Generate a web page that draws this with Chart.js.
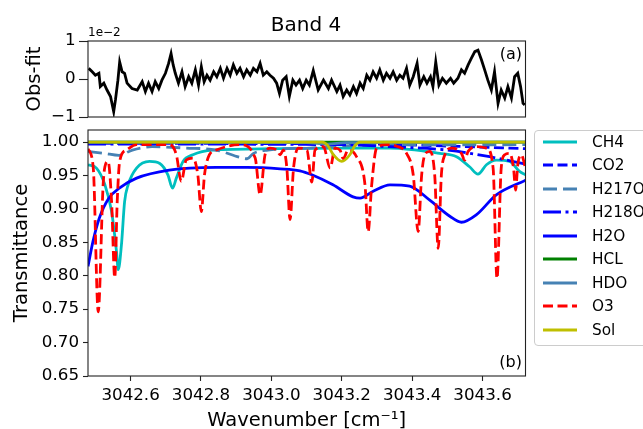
<!DOCTYPE html>
<html>
<head>
<meta charset="utf-8">
<script src="https://cdn.jsdelivr.net/npm/chart.js@4.4.1/dist/chart.umd.min.js"></script>
<style>
  html, body { margin: 0; padding: 0; background: #fff; overflow: hidden; }
  body { width: 643px; height: 429px; position: relative; font-family: "DejaVu Sans", sans-serif; color: #000; }
  canvas { position: absolute; left: 0; top: 0; }
  .txt { position: absolute; white-space: nowrap; line-height: 1; }
  #legendBox { position: absolute; left: 534px; top: 130px; width: 140px; height: 214px;
               border: 1px solid #cccccc; border-radius: 4px; background: #fff; }
  .legRow { position: absolute; left: 0; height: 20px; }
  .legRow svg { position: absolute; left: 543px; top: 5px; }
  .legRow span { position: absolute; left: 592px; top: 0; line-height: 20px; font-size: 15.3px; }
</style>
</head>
<body>
<canvas id="bottomChart" width="643" height="429"></canvas>
<canvas id="topChart" width="643" height="429"></canvas>
<div id="legendBox"></div>
<div class="txt" style="left:306px; top:24px; transform:translate(-50%,-50%); font-size:20px;">Band 4</div>
<div class="txt" style="left:88px; top:32px; transform:translateY(-50%); font-size:12px;">1e−2</div>
<div class="txt" style="right:121px; top:54px; transform:translateY(-50%); font-size:16px;">(a)</div>
<div class="txt" style="right:121px; top:362px; transform:translateY(-50%); font-size:16px;">(b)</div>
<script>
// axis ranges and ticks
const xMin = 3042.479, xMax = 3043.722;
const xTicks = [3042.6, 3042.8, 3043.0, 3043.2, 3043.4, 3043.6];
const yTicks = [0.65, 0.70, 0.75, 0.80, 0.85, 0.90, 0.95, 1.00];
const resTicks = [-1, 0, 1];

// (a) obs - fit residual, in units of 1e-2
const wnRes = [
  3042.481, 3042.491, 3042.500, 3042.510, 3042.514, 3042.524, 3042.533, 3042.543, 3042.552, 3042.557,
  3042.564, 3042.569, 3042.576, 3042.583, 3042.590, 3042.604, 3042.619, 3042.633, 3042.642, 3042.651,
  3042.661, 3042.670, 3042.680, 3042.689, 3042.699, 3042.708, 3042.715, 3042.721, 3042.727, 3042.736,
  3042.746, 3042.755, 3042.765, 3042.774, 3042.784, 3042.793, 3042.801, 3042.809, 3042.817, 3042.826,
  3042.836, 3042.845, 3042.855, 3042.864, 3042.874, 3042.883, 3042.892, 3042.902, 3042.911, 3042.921,
  3042.930, 3042.940, 3042.949, 3042.959, 3042.968, 3042.977, 3042.987, 3042.996, 3043.006, 3043.015,
  3043.023, 3043.032, 3043.042, 3043.051, 3043.061, 3043.070, 3043.080, 3043.089, 3043.099, 3043.108,
  3043.119, 3043.133, 3043.148, 3043.162, 3043.171, 3043.186, 3043.195, 3043.204, 3043.214, 3043.223,
  3043.233, 3043.242, 3043.252, 3043.261, 3043.271, 3043.280, 3043.289, 3043.299, 3043.308, 3043.318,
  3043.327, 3043.337, 3043.346, 3043.356, 3043.365, 3043.374, 3043.384, 3043.393, 3043.403, 3043.414,
  3043.422, 3043.433, 3043.442, 3043.452, 3043.459, 3043.467, 3043.476, 3043.486, 3043.497, 3043.509,
  3043.518, 3043.530, 3043.540, 3043.549, 3043.559, 3043.568, 3043.578, 3043.587, 3043.597, 3043.606,
  3043.615, 3043.625, 3043.634, 3043.644, 3043.653, 3043.663, 3043.672, 3043.682, 3043.691, 3043.700,
  3043.708, 3043.715, 3043.720
];
const resVals = [
  0.28, 0.19, 0.10, 0.15, -0.20, -0.11, -0.29, -0.46, -0.86, -0.55,
  -0.03, 0.45, 0.19, 0.15, -0.11, -0.25, -0.29, -0.07, -0.33, -0.11,
  -0.33, -0.07, -0.25, -0.03, 0.15, 0.41, 0.67, 0.37, 0.15, -0.11,
  0.19, -0.20, 0.06, -0.11, 0.24, -0.16, 0.32, -0.07, 0.10, -0.03,
  0.19, 0.06, 0.28, 0.02, 0.28, 0.10, 0.37, 0.15, 0.28, 0.06,
  0.24, 0.10, 0.28, 0.19, 0.41, 0.10, 0.19, 0.10, 0.02, -0.11,
  -0.38, -0.03, 0.06, -0.46, -0.03, -0.16, -0.03, -0.25, -0.03, -0.16,
  0.22, -0.29, -0.03, -0.25, -0.03, -0.33, -0.16, -0.46, -0.29, -0.42,
  -0.20, -0.38, -0.11, -0.25, 0.10, -0.03, 0.19, 0.02, 0.24, -0.03,
  0.15, 0.02, 0.19, -0.03, 0.10, 0.02, 0.28, -0.16, 0.06, 0.41,
  -0.16, 0.06, -0.11, 0.06, -0.20, 0.45, -0.16, 0.02, -0.11, 0.02,
  -0.11, 0.02, 0.24, 0.15, 0.37, 0.54, 0.72, 0.76, 0.50, 0.24,
  -0.03, -0.29, 0.19, -0.64, -0.29, -0.50, -0.20, -0.50, 0.06, 0.15,
  -0.20, -0.64, -0.68
];

// (b) transmittance per species
const wnCH4 = [3042.479, 3042.503, 3042.527, 3042.546, 3042.560, 3042.565, 3042.574, 3042.583, 3042.593,
  3042.617, 3042.654, 3042.683, 3042.706, 3042.719, 3042.730, 3042.749, 3042.777, 3042.834, 3043.000,
  3043.200, 3043.337, 3043.478, 3043.526, 3043.563, 3043.587, 3043.611, 3043.639, 3043.677, 3043.705, 3043.722];
const trCH4 = [0.966, 0.961, 0.936, 0.896, 0.836, 0.809, 0.846, 0.911, 0.936,
  0.961, 0.971, 0.968, 0.951, 0.931, 0.946, 0.971, 0.981, 0.988, 0.990,
  0.991, 0.991, 0.983, 0.978, 0.963, 0.952, 0.966, 0.973, 0.971, 0.956, 0.951];

const wnCO2 = [3042.479, 3043.300, 3043.500, 3043.722];
const trCO2 = [0.998, 0.997, 0.994, 0.990];

const wnH217O = [3042.479, 3042.526, 3042.567, 3042.605, 3042.661, 3042.758, 3042.843, 3042.911, 3042.931,
  3042.949, 3042.990, 3043.110, 3043.250, 3043.722];
const trH217O = [0.986, 0.983, 0.980, 0.988, 0.993, 0.991, 0.988, 0.977, 0.975,
  0.983, 0.988, 0.991, 0.995, 0.996];

const wnH218O = [3042.479, 3043.200, 3043.337, 3043.497, 3043.620, 3043.722];
const trH218O = [0.997, 0.996, 0.993, 0.988, 0.978, 0.967];

const wnH2O = [3042.479, 3042.493, 3042.511, 3042.538, 3042.568, 3042.617, 3042.710, 3042.843, 3042.931,
  3043.025, 3043.081, 3043.115, 3043.175, 3043.232, 3043.252, 3043.288, 3043.337, 3043.393, 3043.450,
  3043.507, 3043.540, 3043.582, 3043.639, 3043.722];
const trH2O = [0.814, 0.851, 0.886, 0.916, 0.931, 0.946, 0.958, 0.962, 0.962,
  0.960, 0.957, 0.951, 0.936, 0.918, 0.916, 0.926, 0.936, 0.934, 0.913,
  0.889, 0.880, 0.891, 0.921, 0.943];

const wnHCL = [3042.479, 3043.722];
const trHCL = [1.000, 1.000];

const wnHDO = [3042.479, 3043.100, 3043.160, 3043.210, 3043.722];
const trHDO = [1.000, 0.999, 0.997, 0.999, 1.000];

const wnO3 = [3042.479, 3042.494, 3042.508, 3042.522, 3042.527, 3042.536, 3042.546, 3042.555, 3042.562,
  3042.569, 3042.588, 3042.617, 3042.710, 3042.730, 3042.744, 3042.758, 3042.777, 3042.791, 3042.801,
  3042.810, 3042.824, 3042.843, 3042.911, 3042.954, 3042.968, 3042.982, 3042.996, 3043.015, 3043.025,
  3043.034, 3043.044, 3043.053, 3043.063, 3043.077, 3043.101, 3043.115, 3043.124, 3043.148, 3043.167,
  3043.181, 3043.195, 3043.204, 3043.218, 3043.242, 3043.266, 3043.275, 3043.285, 3043.299, 3043.327,
  3043.360, 3043.384, 3043.403, 3043.417, 3043.427, 3043.436, 3043.450, 3043.464, 3043.474, 3043.483,
  3043.493, 3043.512, 3043.540, 3043.549, 3043.559, 3043.582, 3043.611, 3043.630, 3043.641, 3043.653,
  3043.663, 3043.677, 3043.688, 3043.694, 3043.700, 3043.710, 3043.722];
const trO3 = [0.990, 0.961, 0.746, 0.936, 0.963, 0.971, 0.911, 0.797, 0.911,
  0.971, 0.988, 0.996, 0.996, 0.981, 0.941, 0.973, 0.976, 0.951, 0.896,
  0.951, 0.981, 0.988, 0.996, 0.976, 0.921, 0.981, 0.991, 0.988, 0.981,
  0.988, 0.961, 0.884, 0.961, 0.991, 0.988, 0.940, 0.988, 0.993, 0.961,
  0.991, 0.988, 0.975, 0.988, 0.978, 0.936, 0.866, 0.936, 0.991, 0.996,
  0.993, 0.983, 0.951, 0.866, 0.951, 0.981, 0.986, 0.951, 0.841, 0.951,
  0.981, 0.991, 0.983, 0.973, 0.986, 0.993, 0.991, 0.961, 0.796, 0.961,
  0.981, 0.983, 0.961, 0.928, 0.966, 0.981, 0.961];

const wnSol = [3042.479, 3043.145, 3043.160, 3043.176, 3043.200, 3043.223, 3043.238, 3043.252, 3043.722];
const trSol = [1.000, 1.000, 0.995, 0.981, 0.971, 0.981, 0.995, 1.000, 1.000];

const species = [
  { label: 'CH4',   wn: wnCH4,   tr: trCH4,   color: '#00bfbf', dash: [] },
  { label: 'CO2',   wn: wnCO2,   tr: trCO2,   color: '#0000ff', dash: [10, 4.5] },
  { label: 'H217O', wn: wnH217O, tr: trH217O, color: '#4682b4', dash: [14, 6] },
  { label: 'H218O', wn: wnH218O, tr: trH218O, color: '#0000ff', dash: [18, 4.5, 3, 4.5] },
  { label: 'H2O',   wn: wnH2O,   tr: trH2O,   color: '#0000ff', dash: [] },
  { label: 'HCL',   wn: wnHCL,   tr: trHCL,   color: '#008000', dash: [] },
  { label: 'HDO',   wn: wnHDO,   tr: trHDO,   color: '#4682b4', dash: [] },
  { label: 'O3',    wn: wnO3,    tr: trO3,    color: '#ff0000', dash: [10, 4.5] },
  { label: 'Sol',   wn: wnSol,   tr: trSol,   color: '#bfbf00', dash: [] }
];

Chart.defaults.font.family = "'DejaVu Sans', sans-serif";
Chart.defaults.color = '#000';

const LW = 2.8;
const AXIS = '#222';

// matplotlib style closed frame around the plot area
const framePlugin = {
  id: 'frame',
  afterDatasetsDraw(chart) {
    const { ctx, chartArea: a } = chart;
    ctx.save();
    ctx.strokeStyle = AXIS;
    ctx.lineWidth = 1.1;
    ctx.strokeRect(a.left, a.top, a.right - a.left, a.bottom - a.top);
    ctx.restore();
  }
};

const tickGrid = len => ({ drawOnChartArea: false, drawTicks: true, tickLength: len, tickWidth: 1.1, tickColor: AXIS });

// bottom panel: transmittance
const bottomChart = new Chart(document.getElementById('bottomChart'), {
  type: 'line',
  data: {
    datasets: species.map((s, i) => ({
      label: s.label,
      data: s.wn.map((x, k) => ({ x: x, y: s.tr[k] })),
      borderColor: s.color,
      borderDash: s.dash,
      borderWidth: LW,
      pointRadius: 0,
      fill: false,
      cubicInterpolationMode: 'monotone',
      order: species.length - i
    }))
  },
  options: {
    responsive: false,
    animation: false,
    events: [],
    layout: { padding: { left: 0, right: 117.5, top: 130, bottom: 0 } },
    plugins: { legend: { display: false }, tooltip: { enabled: false } },
    scales: {
      x: {
        type: 'linear', min: xMin, max: xMax,
        afterBuildTicks: s => { s.ticks = xTicks.map(v => ({ value: v })); },
        afterFit: s => { s.height = 53; },
        ticks: { callback: v => v.toFixed(1), padding: 4.5, font: { size: 16.7 }, maxRotation: 0, autoSkip: false },
        grid: tickGrid(5),
        border: { display: false },
        title: { display: true, text: 'Wavenumber [cm⁻¹]', font: { size: 19.5 }, padding: { top: 0, bottom: -4 } }
      },
      y: {
        type: 'linear', min: 0.65, max: 1.018,
        afterBuildTicks: s => { s.ticks = yTicks.map(v => ({ value: v })); },
        afterFit: s => { s.width = 88; },
        ticks: { callback: v => v.toFixed(2), padding: 4, font: { size: 16.7 }, autoSkip: false },
        grid: tickGrid(5),
        border: { display: false },
        title: { display: true, text: 'Transmittance', font: { size: 19.5 }, padding: { top: 10, bottom: 0 } }
      }
    }
  },
  plugins: [framePlugin]
});

// top panel: residual
const topChart = new Chart(document.getElementById('topChart'), {
  type: 'line',
  data: {
    datasets: [{
      label: 'Obs-fit',
      data: wnRes.map((x, k) => ({ x: x, y: resVals[k] })),
      borderColor: '#000',
      borderWidth: LW,
      pointRadius: 0,
      fill: false,
      tension: 0
    }]
  },
  options: {
    responsive: false,
    animation: false,
    events: [],
    layout: { padding: { left: 0, right: 117.5, top: 41, bottom: 312 } },
    plugins: { legend: { display: false }, tooltip: { enabled: false } },
    scales: {
      x: { type: 'linear', min: xMin, max: xMax, display: false },
      y: {
        type: 'linear', min: -1, max: 1,
        afterBuildTicks: s => { s.ticks = resTicks.map(v => ({ value: v })); },
        afterFit: s => { s.width = 88; },
        ticks: { callback: v => (v < 0 ? '−' + Math.abs(v) : String(v)), padding: 3.5, font: { size: 16.7 }, autoSkip: false },
        grid: tickGrid(9),
        border: { display: false },
        title: { display: true, text: 'Obs-fit', font: { size: 19.5 }, padding: { top: 23, bottom: 0 } }
      }
    }
  },
  plugins: [framePlugin]
});

// legend built from the bottom chart's datasets
bottomChart.data.datasets.forEach((ds, i) => {
  const cy = 141.7 + 23.5 * i;
  const row = document.createElement('div');
  row.className = 'legRow';
  row.style.top = (cy - 10) + 'px';
  row.style.width = '643px';
  const dash = ds.borderDash.length ? ds.borderDash.join(' ') : 'none';
  row.innerHTML =
    '<svg width="34" height="10"><line x1="0" y1="5" x2="34" y2="5" stroke="' + ds.borderColor +
    '" stroke-width="' + LW + '" stroke-dasharray="' + dash + '"/></svg><span>' + ds.label + '</span>';
  document.body.appendChild(row);
});
</script>
</body>
</html>
